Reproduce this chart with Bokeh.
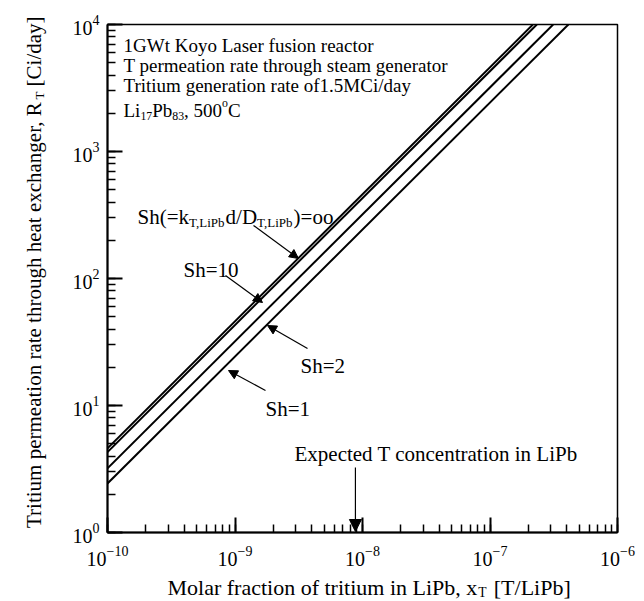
import math
from bokeh.plotting import figure
from bokeh.models import Label, Arrow, NormalHead, LogTicker
from bokeh.embed import file_html
from bokeh.resources import INLINE

# ---------------- data ----------------
series_names = ["Sh=oo", "Sh=10", "Sh=2", "Sh=1"]
sh_inf_x = [1e-10, 2.17e-7]
sh_inf_y = [4.6, 1.0e4]
sh10_x = [1e-10, 2.33e-7]
sh10_y = [4.3, 1.0e4]
sh2_x = [1e-10, 3.13e-7]
sh2_y = [3.2, 1.0e4]
sh1_x = [1e-10, 4.12e-7]
sh1_y = [2.43, 1.0e4]
expected_xT = 8.8e-9

x_range = (1e-10, 1e-6)
y_range = (1.0, 1e4)

FONT = "Liberation Serif"
NB = "\u00a0"

# canvas and frame position (px, canvas = page, no body margin)
CW, CH = 640, 600
FL, FR, FT, FB = 107, 617, 24, 532


def px2x(px):
    lo, hi = math.log10(x_range[0]), math.log10(x_range[1])
    return 10 ** (lo + (px - FL) / (FR - FL) * (hi - lo))


def py2y(py):
    lo, hi = math.log10(y_range[0]), math.log10(y_range[1])
    return 10 ** (lo + (FB - py) / (FB - FT) * (hi - lo))


# Times-like advance widths (per 1000 em)
W = {' ': 250, NB: 250, '(': 333, ')': 333, '=': 564, '/': 278, ',': 250,
     '.': 250, '[': 333, ']': 333, '-': 333}
for c in "0123456789":
    W[c] = 500
W.update(dict(A=722, B=667, C=667, D=722, E=611, F=556, G=722, H=722, I=333,
              J=389, K=722, L=611, M=889, N=722, O=722, P=556, Q=722, R=667,
              S=556, T=611, U=722, V=722, W=944, X=722, Y=722, Z=611))
W.update(dict(a=444, b=500, c=444, d=500, e=444, f=333, g=500, h=500, i=278,
              j=278, k=500, l=278, m=778, n=500, o=500, p=500, q=500, r=333,
              s=389, t=278, u=500, v=500, w=722, x=500, y=500, z=444))


def tw(s, size):
    return sum(W.get(ch, 500) for ch in s) / 1000.0 * size


def put(p, txt, px, py, fs, angle=0.0, place=None):
    lab = Label(x=px2x(px), y=py2y(py), text=txt,
                text_font=FONT, text_font_size=f"{fs:.1f}px",
                text_align="left", text_baseline="alphabetic",
                angle=angle, text_color="black")
    if place is None:
        p.add_layout(lab)
    else:
        p.add_layout(lab, place)


def rich(p, pieces, x0, y0, size, small=0.62):
    cum = 0.0
    for txt, kind in pieces:
        fs = size if kind == "n" else size * small
        shift = 0.0 if kind == "n" else (0.28 * size if kind == "sub" else -0.40 * size)
        stripped = txt.lstrip(" ")
        cum += tw(txt[:len(txt) - len(stripped)], fs)
        put(p, stripped, x0 + cum, y0 + shift, fs)
        cum += tw(stripped, fs)


p = figure(x_axis_type="log", y_axis_type="log",
           x_range=x_range, y_range=y_range,
           frame_width=FR - FL, frame_height=FB - FT,
           min_border_left=FL, min_border_right=CW - FR,
           min_border_top=FT, min_border_bottom=CH - FB,
           output_backend="svg", toolbar_location=None,
           background_fill_color="white", border_fill_color="white")

p.grid.visible = False
p.outline_line_color = "black"
p.outline_line_width = 1.5

for ax in (p.xaxis[0], p.yaxis[0]):
    ax.ticker = LogTicker(num_minor_ticks=10)
    ax.major_tick_in = 15
    ax.major_tick_out = 0
    ax.minor_tick_in = 8
    ax.minor_tick_out = 0
    ax.axis_line_width = 2
    ax.axis_line_color = "black"
    ax.major_tick_line_width = 2
    ax.major_tick_line_color = "black"
    ax.minor_tick_line_width = 1.5
    ax.minor_tick_line_color = "black"
    ax.major_label_text_font = FONT
    ax.major_label_text_font_size = "20px"
    ax.major_label_text_color = "black"
p.xaxis.major_label_standoff = 13
p.yaxis.major_label_standoff = 8

for xs, ys in ((sh_inf_x, sh_inf_y), (sh10_x, sh10_y), (sh2_x, sh2_y), (sh1_x, sh1_y)):
    p.line(xs, ys, line_color="black", line_width=2)

# text block top-left
rich(p, [("1GWt Koyo Laser fusion reactor", "n")], 123, 45, 19)
rich(p, [("T permeation rate through steam generator", "n")], 123, 65, 19)
rich(p, [("Tritium generation rate of1.5MCi/day", "n")], 123, 85, 19)
rich(p, [("Li", "n"), ("17", "sub"), ("Pb", "n"), ("83", "sub"),
         (", 500", "n"), ("o", "sup"), ("C", "n")], 123, 110, 19)

# series annotations
rich(p, [("Sh(=k", "n"), ("T,LiPb", "sub"), ("d/D", "n"), ("T,LiPb", "sub"),
         (")=oo", "n")], 137, 216, 21)
rich(p, [("Sh=10", "n")], 183, 269, 21)
rich(p, [("Sh=2", "n")], 300, 365, 21)
rich(p, [("Sh=1", "n")], 265, 408, 21)
rich(p, [("Expected T concentration in LiPb", "n")], 294, 453, 21)


def arrow(x0, y0, x1, y1, size=9, lw=1.2):
    p.add_layout(Arrow(end=NormalHead(size=size, fill_color="black",
                                      line_color="black", line_width=1),
                       x_start=px2x(x0), y_start=py2y(y0),
                       x_end=px2x(x1), y_end=py2y(y1),
                       line_color="black", line_width=lw))


arrow(253, 225, 298, 258)
arrow(225, 275, 262, 302)
arrow(307, 348, 267, 325)
arrow(265, 390, 228, 370)
p.add_layout(Arrow(end=NormalHead(size=12, fill_color="black", line_color="black"),
                   x_start=expected_xT, y_start=py2y(467),
                   x_end=expected_xT, y_end=py2y(531),
                   line_color="black", line_width=1.2))

# axis titles (side panels so they are not clipped to the frame)
xs = 22
xbase = 587
xlab1 = "Molar fraction of tritium in LiPb, x"
put(p, xlab1 + NB * 3 + "[T/LiPb]", 167, xbase, xs, place="below")
put(p, "T", 167 + tw(xlab1, xs) + 1, xbase + 0.24 * xs, xs * 0.62, place="above")

ys_ = 21
ylab1 = "Tritium permeation rate through heat exchanger, R"
junction = 100
put(p, ylab1 + NB * 3 + "[Ci/day]", 33, junction + tw(ylab1, ys_), ys_,
    angle=math.pi / 2, place="left")
put(p, "T", 33 + 0.28 * ys_, junction - 1, ys_ * 0.62, angle=math.pi / 2,
    place="right")

open("out.html", "w").write(file_html(p, INLINE))
